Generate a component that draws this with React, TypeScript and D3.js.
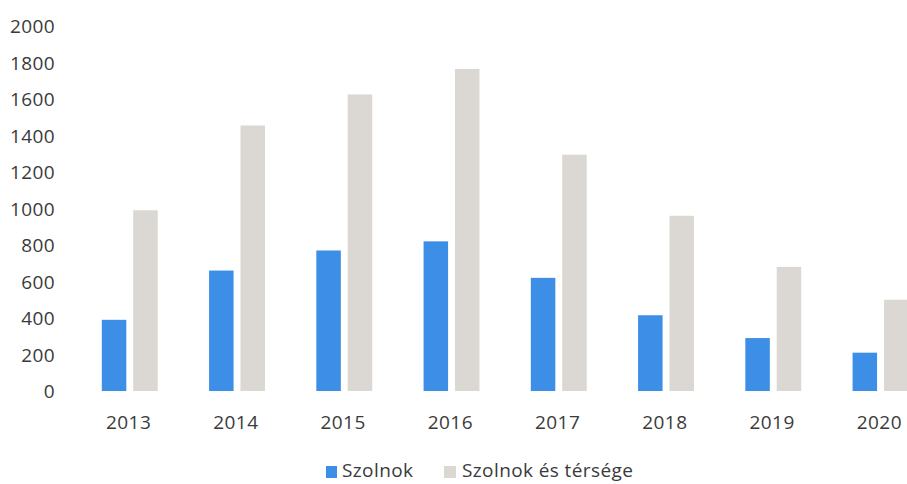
import React from "react";
import * as d3 from "d3";

const years = ["2013", "2014", "2015", "2016", "2017", "2018", "2019", "2020"];
const szolnok = [390, 660, 770, 820, 620, 415, 290, 210];
const terseg = [990, 1455, 1625, 1765, 1295, 960, 680, 500];
const yTicks = [0, 200, 400, 600, 800, 1000, 1200, 1400, 1600, 1800, 2000];
const seriesNames = ["Szolnok", "Szolnok és térsége"];

const W = 907;
const H = 484;
const BLUE = "#3d8ee6";
const GRAY = "#dbd7d2";
const TEXT = "#3a3a3a";
const FONT = "'Open Sans', Lato, sans-serif";
const FS = 19;
const LS = 0.4;

export default function App() {
  const x = d3.scaleBand<string>().domain(years).range([75, 933]).padding(0);
  const y = d3.scaleLinear().domain([0, 2000]).range([391, 26]);
  const barW = 24.5;
  const blueOff = -26.8;
  const grayOff = 4.6;

  return (
    <svg
      width={W}
      height={H}
      style={{ position: "absolute", left: 0, top: 0, background: "#fff" }}
      fontFamily={FONT}
    >
      {yTicks.map((t) => (
        <text
          key={t}
          x={55}
          y={y(t)}
          textAnchor="end"
          dominantBaseline="central"
          fontSize={FS}
          letterSpacing={LS}
          fill={TEXT}
        >
          {t}
        </text>
      ))}
      {years.map((yr, i) => {
        const c = (x(yr) as number) + x.bandwidth() / 2;
        return (
          <g key={yr}>
            <rect
              x={c + blueOff}
              y={y(szolnok[i])}
              width={barW}
              height={y(0) - y(szolnok[i])}
              fill={BLUE}
            />
            <rect
              x={c + grayOff}
              y={y(terseg[i])}
              width={barW}
              height={y(0) - y(terseg[i])}
              fill={GRAY}
            />
            <text
              x={c}
              y={422}
              textAnchor="middle"
              dominantBaseline="central"
              fontSize={FS}
              letterSpacing={LS}
              fill={TEXT}
            >
              {yr}
            </text>
          </g>
        );
      })}
      <g>
        <rect x={326} y={466} width={11} height={12} fill={BLUE} />
        <text x={342} y={477} fontSize={FS} letterSpacing={LS} fill={TEXT}>
          {seriesNames[0]}
        </text>
        <rect x={444} y={466} width={12} height={12} fill={GRAY} />
        <text x={462} y={477} fontSize={FS} letterSpacing={LS} fill={TEXT}>
          {seriesNames[1]}
        </text>
      </g>
    </svg>
  );
}
